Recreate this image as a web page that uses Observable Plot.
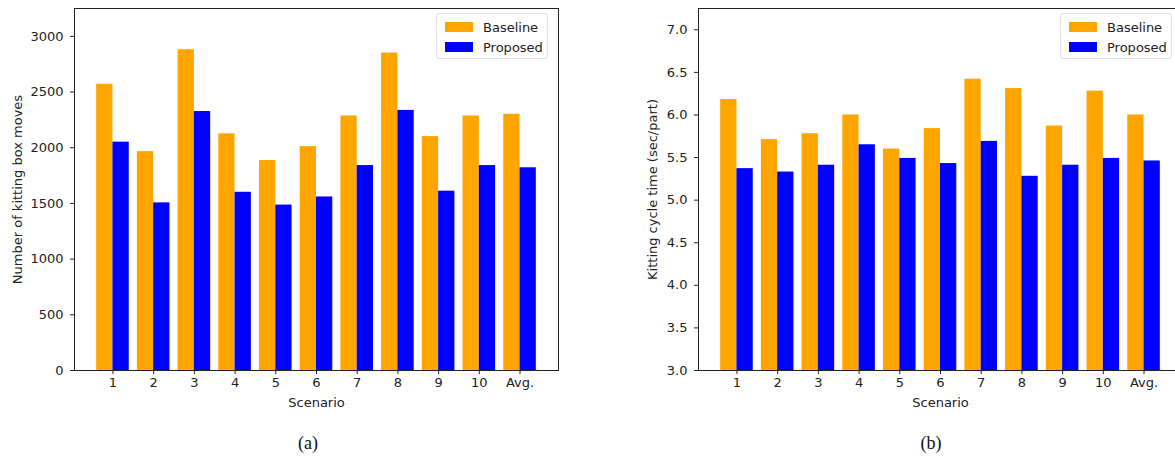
<!DOCTYPE html>
<html>
<head>
<meta charset="utf-8">
<script src="https://cdn.jsdelivr.net/npm/d3@7"></script>
<script src="https://cdn.jsdelivr.net/npm/@observablehq/plot@0.6"></script>
<style>
  html, body { margin: 0; padding: 0; background: #fff; }
  body { width: 1175px; height: 459px; overflow: hidden; position: relative; font-family: "DejaVu Sans", sans-serif; }
  .chart { position: absolute; top: 0; }
  .chart svg { max-width: none !important; display: block; }
  .legend { position: absolute; box-sizing: border-box; border: 1px solid #e2e2e2; border-radius: 3px; background: rgba(255,255,255,0.8); padding: 3px 0 0 0; }
  .legend .row { display: flex; align-items: center; height: 20px; font-size: 13px; color: #222; }
  .legend .sw { width: 28px; height: 10px; margin: 0 10px 0 8px; }
  .caption { position: absolute; top: 433px; font-family: "Liberation Serif", "Times New Roman", serif; font-size: 18px; color: #111; transform: translateX(-50%); }
</style>
</head>
<body>
<div id="left" class="chart" style="left:0px; width:587px"></div>
<div id="right" class="chart" style="left:600px; width:600px"></div>
<div class="caption" style="left:308px">(a)</div>
<div class="caption" style="left:931px">(b)</div>
<script>
const categories = ["1", "2", "3", "4", "5", "6", "7", "8", "9", "10", "Avg."];
const seriesNames = ["Baseline", "Proposed"];
const seriesColors = ["orange", "blue"];

const movesBaseline = [2570, 1965, 2880, 2125, 1885, 2010, 2285, 2850, 2100, 2285, 2300];
const movesProposed = [2050, 1505, 2325, 1600, 1485, 1558, 1840, 2335, 1610, 1840, 1820];
const movesTicks = [0, 500, 1000, 1500, 2000, 2500, 3000];

const cycleBaseline = [6.18, 5.71, 5.78, 6.00, 5.60, 5.84, 6.42, 6.31, 5.87, 6.28, 6.00];
const cycleProposed = [5.37, 5.33, 5.41, 5.65, 5.49, 5.43, 5.69, 5.28, 5.41, 5.49, 5.46];
const cycleTicks = [3.0, 3.5, 4.0, 4.5, 5.0, 5.5, 6.0, 6.5, 7.0];

function rows(values) {
  return categories.map((c, i) => ({cat: c, v: values[i]}));
}

function makeChart(cfg) {
  const plotW = cfg.width - cfg.marginLeft - cfg.marginRight;
  const pInner = 0.2, pOuter = 0.545;
  const step = plotW / (categories.length - pInner + 2 * pOuter);
  const half = step * (1 - pInner) / 2;
  return Plot.plot({
    width: cfg.width,
    height: 420,
    marginLeft: cfg.marginLeft,
    marginRight: cfg.marginRight,
    marginTop: 8,
    marginBottom: 50,
    style: {fontFamily: "DejaVu Sans", fontSize: "13px", color: "#222", background: "white", overflow: "visible", maxWidth: "none"},
    x: {type: "band", domain: categories, paddingInner: pInner, paddingOuter: pOuter, round: false, label: null},
    y: {domain: cfg.yDomain, label: null},
    marks: [
      Plot.barY(rows(cfg.base), {x: "cat", y1: cfg.yDomain[0], y2: "v", fill: seriesColors[0], insetLeft: 0, insetRight: half}),
      Plot.barY(rows(cfg.prop), {x: "cat", y1: cfg.yDomain[0], y2: "v", fill: seriesColors[1], insetLeft: half, insetRight: 0}),
      Plot.axisY({ticks: cfg.ticks, tickSize: 4, tickPadding: 7, tickFormat: cfg.fmt, label: cfg.label, labelAnchor: "center", labelOffset: cfg.labelOffset, labelArrow: "none"}),
      Plot.axisX({tickSize: 4, tickPadding: 3, label: "Scenario", labelAnchor: "center", labelOffset: 36, labelArrow: "none"}),
      Plot.frame({stroke: "#222", strokeWidth: 1})
    ]
  });
}

function makeLegend(left, top) {
  const lg = document.createElement("div");
  lg.className = "legend";
  lg.style.left = left + "px";
  lg.style.top = top + "px";
  lg.style.width = "112px";
  lg.style.height = "46px";
  seriesNames.forEach((n, i) => {
    const r = document.createElement("div");
    r.className = "row";
    const sw = document.createElement("div");
    sw.className = "sw";
    sw.style.background = seriesColors[i];
    const t = document.createElement("span");
    t.textContent = n;
    r.appendChild(sw);
    r.appendChild(t);
    lg.appendChild(r);
  });
  document.body.appendChild(lg);
}

document.getElementById("left").appendChild(makeChart({
  width: 587, marginLeft: 74, marginRight: 29,
  yDomain: [0, 3250], ticks: movesTicks, fmt: d => String(d),
  base: movesBaseline, prop: movesProposed,
  label: "Number of kitting box moves", labelOffset: 62
}));

document.getElementById("right").appendChild(makeChart({
  width: 600, marginLeft: 98, marginRight: 18,
  yDomain: [3, 7.25], ticks: cycleTicks, fmt: d3.format(".1f"),
  base: cycleBaseline, prop: cycleProposed,
  label: "Kitting cycle time (sec/part)", labelOffset: 51
}));

makeLegend(436, 13);
makeLegend(1060, 13);
</script>
</body>
</html>
